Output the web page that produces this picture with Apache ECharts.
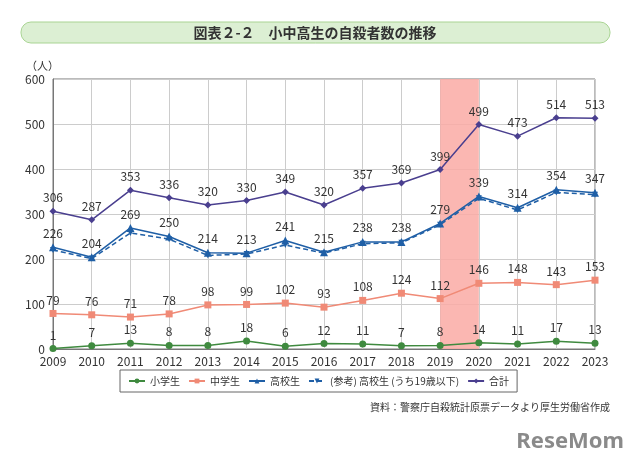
<!DOCTYPE html>
<html><head><meta charset="utf-8">
<script src="https://cdn.jsdelivr.net/npm/echarts@6/dist/echarts.min.js"></script>
<style>html,body{margin:0;padding:0;background:#fff}#c{width:640px;height:465px}</style>
</head><body><div id="c"></div>
<script>
const years = ['2009','2010','2011','2012','2013','2014','2015','2016','2017','2018','2019','2020','2021','2022','2023'];
const elementary = [1,7,13,8,8,18,6,12,11,7,8,14,11,17,13];
const juniorHigh = [79,76,71,78,98,99,102,93,108,124,112,146,148,143,153];
const highSchool = [226,204,269,250,214,213,241,215,238,238,279,339,314,354,347];
const highSchoolU19 = [220,201,258,244,208,211,231,213,234,236,276,335,309,348,343];
const total = [306,287,353,336,320,330,349,320,357,369,399,499,473,514,513];
const seriesNames = ['小学生','中学生','高校生','(参考) 高校生 (うち19歳以下)','合計'];
const yTicks = [0,100,200,300,400,500,600];

const FONT = '"Noto Sans CJK JP", "Noto Sans", sans-serif';
const chart = echarts.init(document.getElementById('c'), null, {renderer:'canvas'});
const lbl = {show:true, position:'top', distance:4, fontSize:12, color:'#333', fontFamily:FONT};
function line(name, data, color, symbol, size, extra){
  return Object.assign({
    name, type:'line', data, symbol, symbolSize:size,
    lineStyle:{color, width:1.5}, itemStyle:{color},
    label: lbl, z:3
  }, extra||{});
}
chart.setOption({
  animation:false,
  textStyle:{fontFamily:FONT},
  grid:{left:53, right:45, top:79, bottom:116, show:true, borderColor:'#777', borderWidth:1},
  graphic:[
    {type:'rect', shape:{x:21, y:22, width:589, height:21, r:10}, style:{fill:'#dcefd3', stroke:'#a9d493', lineWidth:1}},
    {type:'text', x:315, y:32.5, style:{text:'図表２-２　小中高生の自殺者数の推移', fill:'#333', font:'bold 14px "Noto Sans CJK JP"', textAlign:'center', textVerticalAlign:'middle'}},
    {type:'text', x:26, y:60, style:{text:'（人）', fill:'#333', font:'11px "Noto Sans CJK JP"'}},
    {type:'text', x:610, y:407, style:{text:'資料：警察庁自殺統計原票データより厚生労働省作成', fill:'#333', font:'10px "Noto Sans CJK JP"', textAlign:'right', textVerticalAlign:'middle'}},
    {type:'text', x:624, y:442, style:{text:'ReseMom', fill:'#8a8a8a', font:'bold 22px "Noto Sans"', textAlign:'right', textVerticalAlign:'middle'}}
  ],
  legend:{
    data:seriesNames.map(n=>({name:n})), left:120, top:370,
    borderColor:'#666', borderWidth:1, padding:[6,8], itemGap:8, itemWidth:16, itemHeight:6,
    textStyle:{fontSize:10, color:'#333', fontFamily:FONT}
  },
  xAxis:{type:'category', data:years, boundaryGap:false,
    axisLine:{lineStyle:{color:'#777'}}, axisTick:{show:false},
    splitLine:{show:true, lineStyle:{color:'#ccc'}},
    axisLabel:{fontSize:12, color:'#333', margin:6, fontFamily:FONT}},
  yAxis:{type:'value', min:0, max:600, interval:100,
    axisLine:{show:true, lineStyle:{color:'#777'}}, axisTick:{show:false},
    splitLine:{lineStyle:{color:'#ccc'}},
    axisLabel:{fontSize:12, color:'#333', margin:8, fontFamily:FONT}},
  series:[
    line(seriesNames[0], elementary, '#3f8a3f', 'circle', 7),
    line(seriesNames[1], juniorHigh, '#f08a76', 'rect', 7, {
      markArea:{silent:true, itemStyle:{color:'rgba(250,170,165,0.85)'}, data:[[{xAxis:'2019'},{xAxis:'2020'}]], z:1}
    }),
    line(seriesNames[2], highSchool, '#1f5fa6', 'triangle', 8),
    line(seriesNames[3], highSchoolU19, '#1f5fa6', 'path://M0,0 L10,0 L5,9 Z', 6, {lineStyle:{color:'#1f5fa6', width:1.5, type:[5,3]}, label:{show:false}}),
    line(seriesNames[4], total, '#4a3f8f', 'diamond', 7)
  ]
});
</script></body></html>
